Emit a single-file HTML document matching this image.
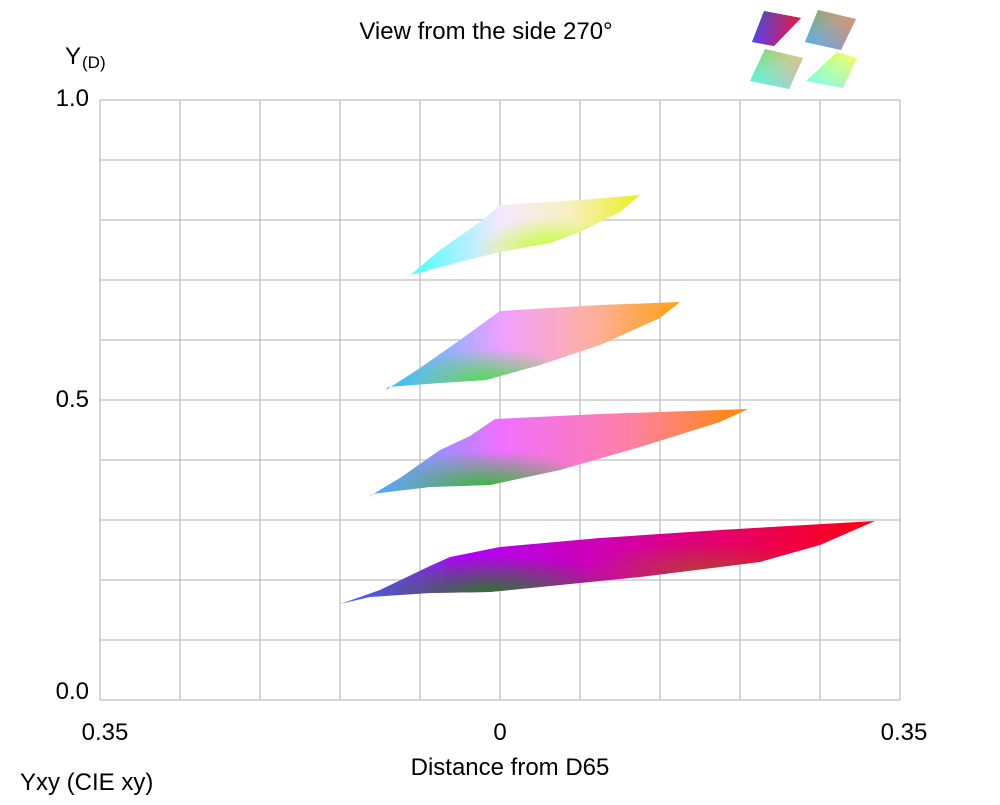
<!DOCTYPE html>
<html><head><meta charset="utf-8"><style>
html,body{margin:0;padding:0;background:#fff;}
svg text{font-family:"Liberation Sans",Arial,sans-serif;fill:#000;}
</style></head><body>
<svg width="1000" height="800" viewBox="0 0 1000 800" xmlns="http://www.w3.org/2000/svg">
<defs>
<linearGradient id="h4" gradientUnits="userSpaceOnUse" x1="340" y1="0" x2="875" y2="0">
<stop offset="0" stop-color="#3a70ff"/><stop offset="0.22" stop-color="#b000ff"/><stop offset="0.5" stop-color="#d000b0"/><stop offset="1" stop-color="#ff0010"/></linearGradient>
<radialGradient id="v4" gradientUnits="userSpaceOnUse" cx="0" cy="0" r="40" gradientTransform="translate(490,595) scale(3.5,1)">
<stop offset="0" stop-color="#208018" stop-opacity="0.95"/><stop offset="1" stop-color="#208018" stop-opacity="0"/></radialGradient>
<radialGradient id="b4" gradientUnits="userSpaceOnUse" cx="0" cy="0" r="30" gradientTransform="translate(700,572) scale(4,1)">
<stop offset="0" stop-color="#a06010" stop-opacity="0.6"/><stop offset="1" stop-color="#a06010" stop-opacity="0"/></radialGradient>
<linearGradient id="h3" gradientUnits="userSpaceOnUse" x1="368" y1="0" x2="748" y2="0">
<stop offset="0" stop-color="#40b0ff"/><stop offset="0.35" stop-color="#f070ff"/><stop offset="0.7" stop-color="#ff80a0"/><stop offset="1" stop-color="#ff8a00"/></linearGradient>
<radialGradient id="v3" gradientUnits="userSpaceOnUse" cx="0" cy="0" r="40" gradientTransform="translate(490,490) scale(2.8,1)">
<stop offset="0" stop-color="#20c020" stop-opacity="0.95"/><stop offset="1" stop-color="#20c020" stop-opacity="0"/></radialGradient>
<linearGradient id="h2" gradientUnits="userSpaceOnUse" x1="386" y1="0" x2="680" y2="0">
<stop offset="0" stop-color="#30c0ff"/><stop offset="0.4" stop-color="#f0a0ff"/><stop offset="0.7" stop-color="#ffb0a0"/><stop offset="1" stop-color="#ffa010"/></linearGradient>
<radialGradient id="v2" gradientUnits="userSpaceOnUse" cx="0" cy="0" r="35" gradientTransform="translate(490,383) scale(2.6,1)">
<stop offset="0" stop-color="#40e040" stop-opacity="0.95"/><stop offset="1" stop-color="#40e040" stop-opacity="0"/></radialGradient>
<linearGradient id="h1" gradientUnits="userSpaceOnUse" x1="407" y1="0" x2="640" y2="0">
<stop offset="0" stop-color="#40ffff"/><stop offset="0.4" stop-color="#f4e8ff"/><stop offset="0.7" stop-color="#f8f0c0"/><stop offset="1" stop-color="#e8f020"/></linearGradient>
<radialGradient id="v1" gradientUnits="userSpaceOnUse" cx="0" cy="0" r="30" gradientTransform="translate(550,248) scale(2.5,1)">
<stop offset="0" stop-color="#c0ff30" stop-opacity="0.95"/><stop offset="1" stop-color="#c0ff30" stop-opacity="0"/></radialGradient>
<linearGradient id="t1" x1="0" y1="0" x2="1" y2="1"><stop offset="0" stop-color="#208040"/><stop offset="0.5" stop-color="#9040c0"/><stop offset="1" stop-color="#e000e0"/></linearGradient>
<linearGradient id="t1b" x1="0" y1="0" x2="1" y2="0"><stop offset="0" stop-color="#4040ff" stop-opacity="0.7"/><stop offset="1" stop-color="#ff1010" stop-opacity="0.8"/></linearGradient>
<linearGradient id="t2" x1="0" y1="0" x2="1" y2="1"><stop offset="0" stop-color="#20c040"/><stop offset="0.4" stop-color="#b0a0d0"/><stop offset="1" stop-color="#ff60f0"/></linearGradient>
<linearGradient id="t2b" x1="0" y1="1" x2="1" y2="0"><stop offset="0" stop-color="#20c0ff" stop-opacity="0.7"/><stop offset="1" stop-color="#ff9020" stop-opacity="0.7"/></linearGradient>
<linearGradient id="t3" x1="0" y1="0" x2="1" y2="1"><stop offset="0" stop-color="#40ff40"/><stop offset="0.5" stop-color="#c0f0d0"/><stop offset="1" stop-color="#ffb0ff"/></linearGradient>
<linearGradient id="t3b" x1="0" y1="1" x2="1" y2="0"><stop offset="0" stop-color="#20ffff" stop-opacity="0.7"/><stop offset="1" stop-color="#ffa040" stop-opacity="0.6"/></linearGradient>
<linearGradient id="t4" x1="0" y1="0" x2="1" y2="1"><stop offset="0" stop-color="#c0ff40"/><stop offset="0.5" stop-color="#e8fff0"/><stop offset="1" stop-color="#ffd0ff"/></linearGradient>
<linearGradient id="t4b" x1="0" y1="1" x2="1" y2="0"><stop offset="0" stop-color="#40ffff" stop-opacity="0.7"/><stop offset="1" stop-color="#ffff20" stop-opacity="0.7"/></linearGradient>
</defs>
<g stroke="#c8c8c8" stroke-width="1.5">
<line x1="100" y1="100" x2="900" y2="100"/><line x1="100" y1="160" x2="900" y2="160"/><line x1="100" y1="220" x2="900" y2="220"/><line x1="100" y1="280" x2="900" y2="280"/><line x1="100" y1="340" x2="900" y2="340"/><line x1="100" y1="400" x2="900" y2="400"/><line x1="100" y1="460" x2="900" y2="460"/><line x1="100" y1="520" x2="900" y2="520"/><line x1="100" y1="580" x2="900" y2="580"/><line x1="100" y1="640" x2="900" y2="640"/><line x1="100" y1="700" x2="900" y2="700"/>
<line x1="100" y1="100" x2="100" y2="700"/><line x1="180" y1="100" x2="180" y2="700"/><line x1="260" y1="100" x2="260" y2="700"/><line x1="340" y1="100" x2="340" y2="700"/><line x1="420" y1="100" x2="420" y2="700"/><line x1="500" y1="100" x2="500" y2="700"/><line x1="580" y1="100" x2="580" y2="700"/><line x1="660" y1="100" x2="660" y2="700"/><line x1="740" y1="100" x2="740" y2="700"/><line x1="820" y1="100" x2="820" y2="700"/><line x1="900" y1="100" x2="900" y2="700"/>
</g>
<g>
<path d="M340,604 L380,590 L430,566 L450,557 L500,547 L600,538 L720,530 L875,521 L820,545 L760,562 L640,577 L560,585 L490,592 L430,593 L370,597 Z" fill="url(#h4)"/>
<path d="M340,604 L380,590 L430,566 L450,557 L500,547 L600,538 L720,530 L875,521 L820,545 L760,562 L640,577 L560,585 L490,592 L430,593 L370,597 Z" fill="url(#b4)"/>
<path d="M340,604 L380,590 L430,566 L450,557 L500,547 L600,538 L720,530 L875,521 L820,545 L760,562 L640,577 L560,585 L490,592 L430,593 L370,597 Z" fill="url(#v4)"/>
<path d="M368,497 L400,478 L440,450 L470,436 L495,419 L600,414 L748,409 L720,422 L640,447 L560,470 L490,485 L430,487 L372,494 Z" fill="url(#h3)"/>
<path d="M368,497 L400,478 L440,450 L470,436 L495,419 L600,414 L748,409 L720,422 L640,447 L560,470 L490,485 L430,487 L372,494 Z" fill="url(#v3)"/>
<path d="M386,390 L420,368 L460,340 L500,311 L600,305 L680,302 L660,318 L600,345 L540,365 L486,380 L440,383 L388,387 Z" fill="url(#h2)"/>
<path d="M386,390 L420,368 L460,340 L500,311 L600,305 L680,302 L660,318 L600,345 L540,365 L486,380 L440,383 L388,387 Z" fill="url(#v2)"/>
<path d="M407,278 L440,250 L480,222 L500,205 L580,200 L640,195 L620,212 L580,232 L550,243 L500,252 L460,262 L410,275 Z" fill="url(#h1)"/>
<path d="M407,278 L440,250 L480,222 L500,205 L580,200 L640,195 L620,212 L580,232 L550,243 L500,252 L460,262 L410,275 Z" fill="url(#v1)"/>
</g>
<g>
<path d="M764,11 L801,18 L774,46 L752,42 Z" fill="url(#t1)"/><path d="M764,11 L801,18 L774,46 L752,42 Z" fill="url(#t1b)"/>
<path d="M818,10 L856,19 L841,50 L805,42 Z" fill="url(#t2)"/><path d="M818,10 L856,19 L841,50 L805,42 Z" fill="url(#t2b)"/>
<path d="M765,49 L803,58 L789,89 L750,81 Z" fill="url(#t3)"/><path d="M765,49 L803,58 L789,89 L750,81 Z" fill="url(#t3b)"/>
<path d="M837,52 L857,58 L843,88 L806,81 Z" fill="url(#t4)"/><path d="M837,52 L857,58 L843,88 L806,81 Z" fill="url(#t4b)"/>
</g>
<g font-size="24">
<text x="486" y="39" text-anchor="middle">View from the side 270°</text>
<text x="65" y="64">Y</text><text x="82" y="68" font-size="17">(D)</text>
<text x="89" y="106" text-anchor="end">1.0</text>
<text x="89" y="407" text-anchor="end">0.5</text>
<text x="89" y="699" text-anchor="end">0.0</text>
<text x="105" y="740" text-anchor="middle">0.35</text>
<text x="500" y="740" text-anchor="middle">0</text>
<text x="904" y="740" text-anchor="middle">0.35</text>
<text x="510" y="775" text-anchor="middle">Distance from D65</text>
<text x="20" y="790">Yxy (CIE xy)</text>
</g>
</svg>
</body></html>
